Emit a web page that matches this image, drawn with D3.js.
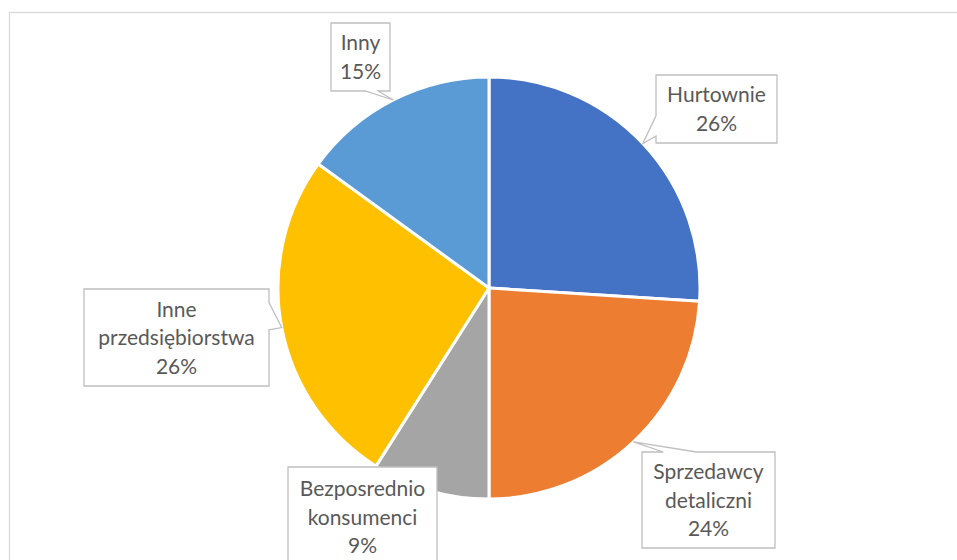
<!DOCTYPE html>
<html>
<head>
<meta charset="utf-8">
<script src="https://cdn.jsdelivr.net/npm/d3@7"></script>
<style>
  html, body { margin: 0; padding: 0; background: #ffffff; }
  svg { display: block; }
</style>
</head>
<body>
<svg id="chart" width="957" height="560"></svg>
<script>
// ---- data ----
const categories = ["Hurtownie", "Sprzedawcy detaliczni", "Bezposrednio konsumenci", "Inne przedsiębiorstwa", "Inny"];
const values = [26, 24, 9, 26, 15];
const colors = ["#4472C4", "#ED7D31", "#A5A5A5", "#FFC000", "#5B9BD5"];

// ---- layout (label callout boxes) ----
const labelBoxes = [
  {x: 656, y: 75,  w: 121, h: 68,  side: "left",   t: [0.6, 0.9]},
  {x: 642, y: 452, w: 133, h: 96,  side: "top",    t: [0.16, 0.41]},
  {x: 288, y: 467, w: 149, h: 100, side: null,     t: null},
  {x: 84,  y: 289, w: 185, h: 97,  side: "right",  t: [0.14, 0.42]},
  {x: 331, y: 23,  w: 59,  h: 68,  side: "bottom", t: [0.58, 0.8]}
];

const W = 957, H = 560;
const cx = 489, cy = 288, R = 211;
const fontSize = 21, lineH = 28.5;

const svg = d3.select("#chart");

// chart area border
svg.append("rect")
  .attr("x", 9.5).attr("y", 12.5)
  .attr("width", 1000).attr("height", 600)
  .attr("fill", "none")
  .attr("stroke", "#d9d9d9")
  .attr("stroke-width", 1.3);

const total = d3.sum(values);
const pie = d3.pie().sort(null).value(d => d)(values);
const arc = d3.arc().innerRadius(0).outerRadius(R);
const color = d3.scaleOrdinal().domain(categories).range(colors);
const pct = d3.format(".0%");

const g = svg.append("g").attr("transform", `translate(${cx},${cy})`);
g.selectAll("path.slice")
  .data(pie)
  .join("path")
  .attr("class", "slice")
  .attr("d", arc)
  .attr("fill", (d, i) => color(categories[i]))
  .attr("stroke", "#ffffff")
  .attr("stroke-width", 3)
  .attr("stroke-linejoin", "round");

// callouts
function calloutPath(b, tip) {
  const x0 = b.x, y0 = b.y, x1 = b.x + b.w, y1 = b.y + b.h;
  const p = d3.path();
  p.moveTo(x0, y0);
  if (b.side === "top") {
    p.lineTo(x0 + b.t[0] * b.w, y0); p.lineTo(tip[0], tip[1]); p.lineTo(x0 + b.t[1] * b.w, y0);
  }
  p.lineTo(x1, y0);
  if (b.side === "right") {
    p.lineTo(x1, y0 + b.t[0] * b.h); p.lineTo(tip[0], tip[1]); p.lineTo(x1, y0 + b.t[1] * b.h);
  }
  p.lineTo(x1, y1);
  if (b.side === "bottom") {
    p.lineTo(x0 + b.t[1] * b.w, y1); p.lineTo(tip[0], tip[1]); p.lineTo(x0 + b.t[0] * b.w, y1);
  }
  p.lineTo(x0, y1);
  if (b.side === "left") {
    p.lineTo(x0, y0 + b.t[1] * b.h); p.lineTo(tip[0], tip[1]); p.lineTo(x0, y0 + b.t[0] * b.h);
  }
  p.closePath();
  return p.toString();
}

const labels = svg.append("g");
pie.forEach((d, i) => {
  const b = labelBoxes[i];
  const mid = (d.startAngle + d.endAngle) / 2;
  const tip = [cx + R * Math.sin(mid), cy - R * Math.cos(mid)];
  labels.append("path")
    .attr("d", calloutPath(b, tip))
    .attr("fill", "#ffffff")
    .attr("stroke", "#bfbfbf")
    .attr("stroke-width", 1.3)
    .attr("stroke-linejoin", "miter");
  const lines = categories[i].split(" ").concat([pct(values[i] / total)]);
  const bcy = b.y + b.h / 2;
  const n = lines.length;
  const t = labels.append("text")
    .attr("font-family", "Lato, 'Open Sans', sans-serif")
    .attr("font-size", fontSize)
    .attr("fill", "#595959")
    .attr("text-anchor", "middle");
  lines.forEach((ln, k) => {
    const lc = bcy + (k - (n - 1) / 2) * lineH;
    t.append("tspan")
      .attr("x", b.x + b.w / 2)
      .attr("y", lc + 0.36 * fontSize)
      .text(ln);
  });
});
</script>
</body>
</html>
